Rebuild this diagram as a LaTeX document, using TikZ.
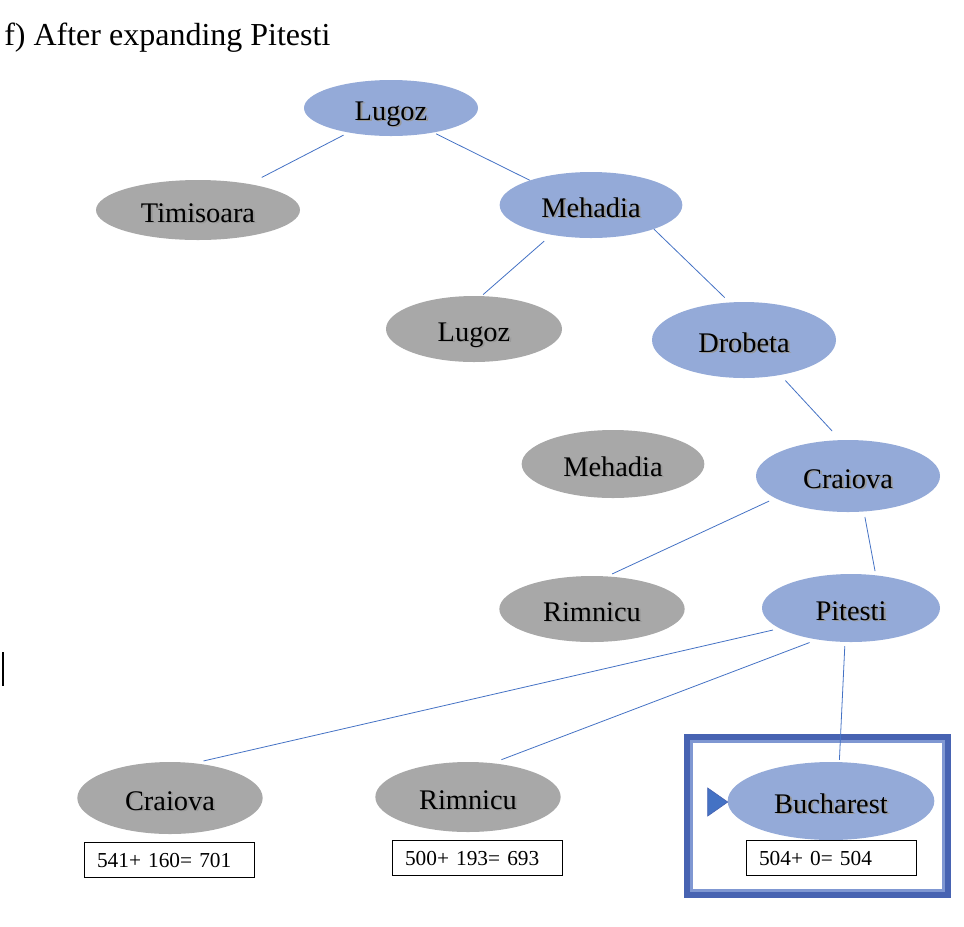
\documentclass[tikz,border=0pt]{standalone}
\usepackage{fontspec}
\setmainfont{Liberation Serif}
\usepackage{xcolor}
\usetikzlibrary{shapes.geometric}
\definecolor{nodeblue}{HTML}{94AAD8}
\definecolor{nodegray}{HTML}{A8A8A8}
\definecolor{edgeblue}{HTML}{4472C4}
\definecolor{frameblue}{HTML}{4763B2}
\definecolor{framelight}{HTML}{7F97D2}
\newcommand\shad[1]{\makebox[0pt][l]{\hspace{1.4pt}\raisebox{-1.4pt}{\textcolor{black!40}{#1}}}#1}

\begin{document}
\begin{tikzpicture}[x=0.75pt,y=-0.75pt,
    city/.style={ellipse, inner sep=0pt, text height=18pt, text depth=0pt,
      font=\fontsize{21.3}{25}\selectfont},
    open/.style={city, fill=nodeblue},
    shut/.style={city, fill=nodegray},
    score/.style={draw, line width=0.6pt, minimum width=127.5pt, minimum height=26.5pt,
      text width=108pt, align=left, inner xsep=9.75pt, inner ysep=0pt,
      font=\fontsize{16}{19}\selectfont},
    link/.style={edgeblue, line width=0.6pt}]
    \useasboundingbox (0,0) rectangle (964,926);
    % title and cursor
    \node[anchor=base west, font=\fontsize{24}{28}\selectfont, inner sep=0pt] (title) at (4,45) {f) After expanding Pitesti};
    \coordinate (ctop) at (3,652);
    \coordinate (cbot) at (3,686);
    \draw[line width=1.5pt] (ctop) -- (cbot);
    % draw cities
    \node[open, minimum width=130.5pt, minimum height=42pt] (lug) at (391,108) {\shad{Lugoz}};
    \node[shut, minimum width=153pt, minimum height=45pt] (tim) at (198,210) {\shad{Timisoara}};
    \node[open, minimum width=137pt, minimum height=49.5pt] (meh) at (591,205) {\shad{Mehadia}};
    \node[shut, minimum width=132pt, minimum height=49.5pt] (luga) at (474,329) {\shad{Lugoz}};
    \node[open, minimum width=138pt, minimum height=57pt] (dro) at (744,340) {\shad{Drobeta}};
    \node[shut, minimum width=137pt, minimum height=51pt] (meha) at (613,464) {\shad{Mehadia}};
    \node[open, minimum width=138pt, minimum height=54pt] (cra) at (848,476) {\shad{Craiova}};
    \node[shut, minimum width=139pt, minimum height=49.5pt] (rim) at (592,609) {\shad{Rimnicu}};
    \node[open, minimum width=133.5pt, minimum height=51pt] (pit) at (851,608) {\shad{Pitesti}};
    \node[shut, minimum width=139pt, minimum height=54pt] (craa) at (170,798) {\shad{Craiova}};
    \node[shut, minimum width=139pt, minimum height=52.5pt] (rima) at (468,797) {\shad{Rimnicu}};
    \node[open, minimum width=155pt, minimum height=58.5pt] (buc) at (831,801) {\shad{Bucharest}};
    % f + h boxes
    \node[score] (scra) at (169,860) {541+ 160= 701};
    \node[score] (srim) at (477,858) {500+ 193= 693};
    \node[score] (sbuc) at (831,858) {504+ 0= 504};
    % goal frame and marker
    \draw[frameblue, line width=4.5pt] (687,737) rectangle (948,895);
    \draw[framelight, line width=2pt] (691.5,741.5) rectangle (943.5,890.5);
    \node[isosceles triangle, fill=edgeblue, draw=frameblue, line width=0.5pt, inner sep=0pt,
      minimum height=15pt, minimum width=18pt, isosceles triangle apex angle=70] (mark) at (715,802) {};
    % draw edges
    \draw[link, shorten <=4pt, shorten >=10.5pt] (lug.210) -- (tim.27);%lugoz-timisoara
    \draw[link, shorten <=2pt] (lug.330) -- (meh.158);%lugoz-mehadia
    \draw[link, shorten <=7pt, shorten >=1.5pt] (meh.217) -- (luga.77);%mehadia-lugoz
    \draw[link, shorten >=5pt] (meh.339) -- (dro.111);%mehadia-drobeta
    \draw[link, shorten <=5.5pt, shorten >=9pt] (dro.316) -- (cra.102);%drobeta-craiova
    \draw[link, shorten <=5pt, shorten >=4pt] (cra.197) -- (rim.65);%craiova-rimnicu
    \draw[link, shorten <=4pt, shorten >=3pt] (cra.294) -- (pit.53);%craiova-pitesti
    \draw[link, shorten <=5pt, shorten >=7pt] (pit.196) -- (craa.55);%pitesti-craiova
    \draw[link, shorten <=6pt, shorten >=7pt] (pit.223) -- (rima.54);%pitesti-rimnicu
    \draw[link, shorten <=3pt, shorten >=1.5pt] (pit.260) -- (buc.78);%pitesti-bucharest
\end{tikzpicture}
\end{document}
